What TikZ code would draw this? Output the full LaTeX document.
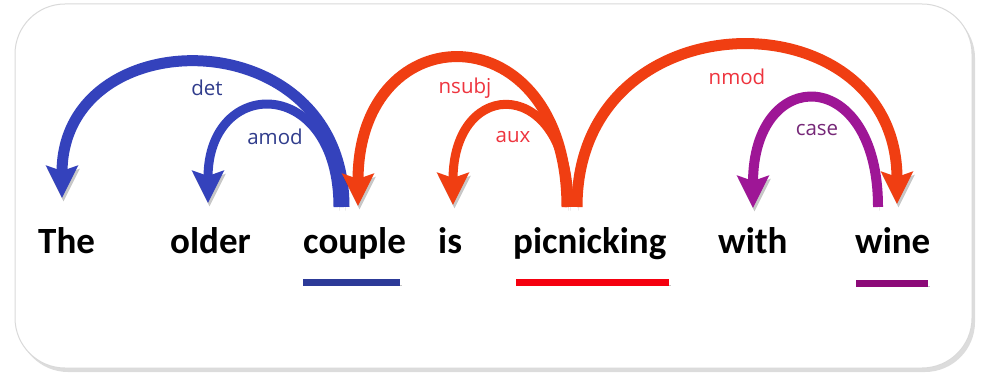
\documentclass[tikz,border=0pt]{standalone}
\usepackage{fontspec}
\setmainfont{Carlito}
\newfontfamily\labfont{Open Sans}
\usetikzlibrary{arrows.meta}
\definecolor{arcblue}{RGB}{52,66,188}
\definecolor{arcred}{RGB}{240,62,18}
\definecolor{arcpurp}{RGB}{158,22,150}
\definecolor{labblue}{RGB}{48,60,140}
\definecolor{labred}{RGB}{238,52,62}
\definecolor{labpurp}{RGB}{118,40,120}
\definecolor{ulblue}{RGB}{44,58,152}
\definecolor{ulred}{RGB}{245,0,15}
\definecolor{ulpurp}{RGB}{140,10,120}
\begin{document}
\begin{tikzpicture}[x=1pt,y=-1pt,
  word/.style={font=\fontsize{37}{40}\selectfont\bfseries, anchor=base west, inner sep=0pt},
  lab/.style={font=\labfont\fontsize{20.5}{24}\selectfont, inner sep=0pt},
  shad/.style={preaction={draw=black, opacity=0.22, transform canvas={shift={(1.5pt,-3.5pt)}}}},
  deparc/.style={line width=#1, shad, line cap=butt,
    -{Stealth[inset=5pt,length=32pt,width=31pt]}},
  uline/.style={line width=7pt, shad},
  frame/.style={draw=black!15, line width=1pt, fill=white, rounded corners=50pt}
]
\useasboundingbox (0,0) rectangle (982,374);
% frame with shadow
\fill[black!30, opacity=0.45, rounded corners=50pt] (18,8) rectangle (975,372);
\path[frame] (15,4) rectangle (972,368);

% words
\node[word] (The) at (38,253) {The};
\node[word] (older) at (170,253) {older};
\node[word] (couple) at (303,253) {couple};
\node[word] (is) at (438,253) {is};
\node[word] (picnicking) at (513,253) {picnicking};
\node[word] (with) at (718,253) {with};
\node[word] (wine) at (855,253) {wine};

% arc end points
\coordinate (det-t) at (344,207);  \coordinate (det-h) at (62,198);
\coordinate (amod-t) at (338,207); \coordinate (amod-h) at (208,203);
\coordinate (nsubj-t) at (567,207); \coordinate (nsubj-h) at (358,206);
\coordinate (aux-t) at (569,207);  \coordinate (aux-h) at (453,205);
\coordinate (nmod-t) at (577,207); \coordinate (nmod-h) at (897,204);
\coordinate (case-t) at (878,207); \coordinate (case-h) at (753,208);

% blue arcs
\draw[deparc=9pt, arcblue] (amod-t) .. controls (338,75) and (208,75) .. (amod-h);
\draw[deparc=11pt, arcblue] (det-t) .. controls (344,18) and (62,18) .. (det-h);
% purple arc
\draw[deparc=10pt, arcpurp] (case-t) .. controls (878,64) and (753,64) .. (case-h);
% red arcs
\draw[deparc=9pt, arcred] (aux-t) .. controls (569,75) and (453,75) .. (aux-h);
\draw[deparc=11pt, arcred] (nsubj-t) .. controls (567,11) and (358,11) .. (nsubj-h);
\draw[deparc=11pt, arcred] (nmod-t) .. controls (577,-6) and (897,-6) .. (nmod-h);

% labels
\node[lab, text=labblue] (l-det) at (207,88) {det};
\node[lab, text=labblue] (l-amod) at (275,137) {amod};
\node[lab, text=labred] (l-nsubj) at (465,88) {nsubj};
\node[lab, text=labred] (l-aux) at (513,137) {aux};
\node[lab, text=labred] (l-nmod) at (737,77) {nmod};
\node[lab, text=labpurp] (l-case) at (817,130) {case};

% underlines
\draw[uline, ulblue] (303,282) -- (400,282);
\draw[uline, ulred] (516,282) -- (669,282);
\draw[uline, ulpurp] (856,283) -- (928,283);
\end{tikzpicture}
\end{document}
